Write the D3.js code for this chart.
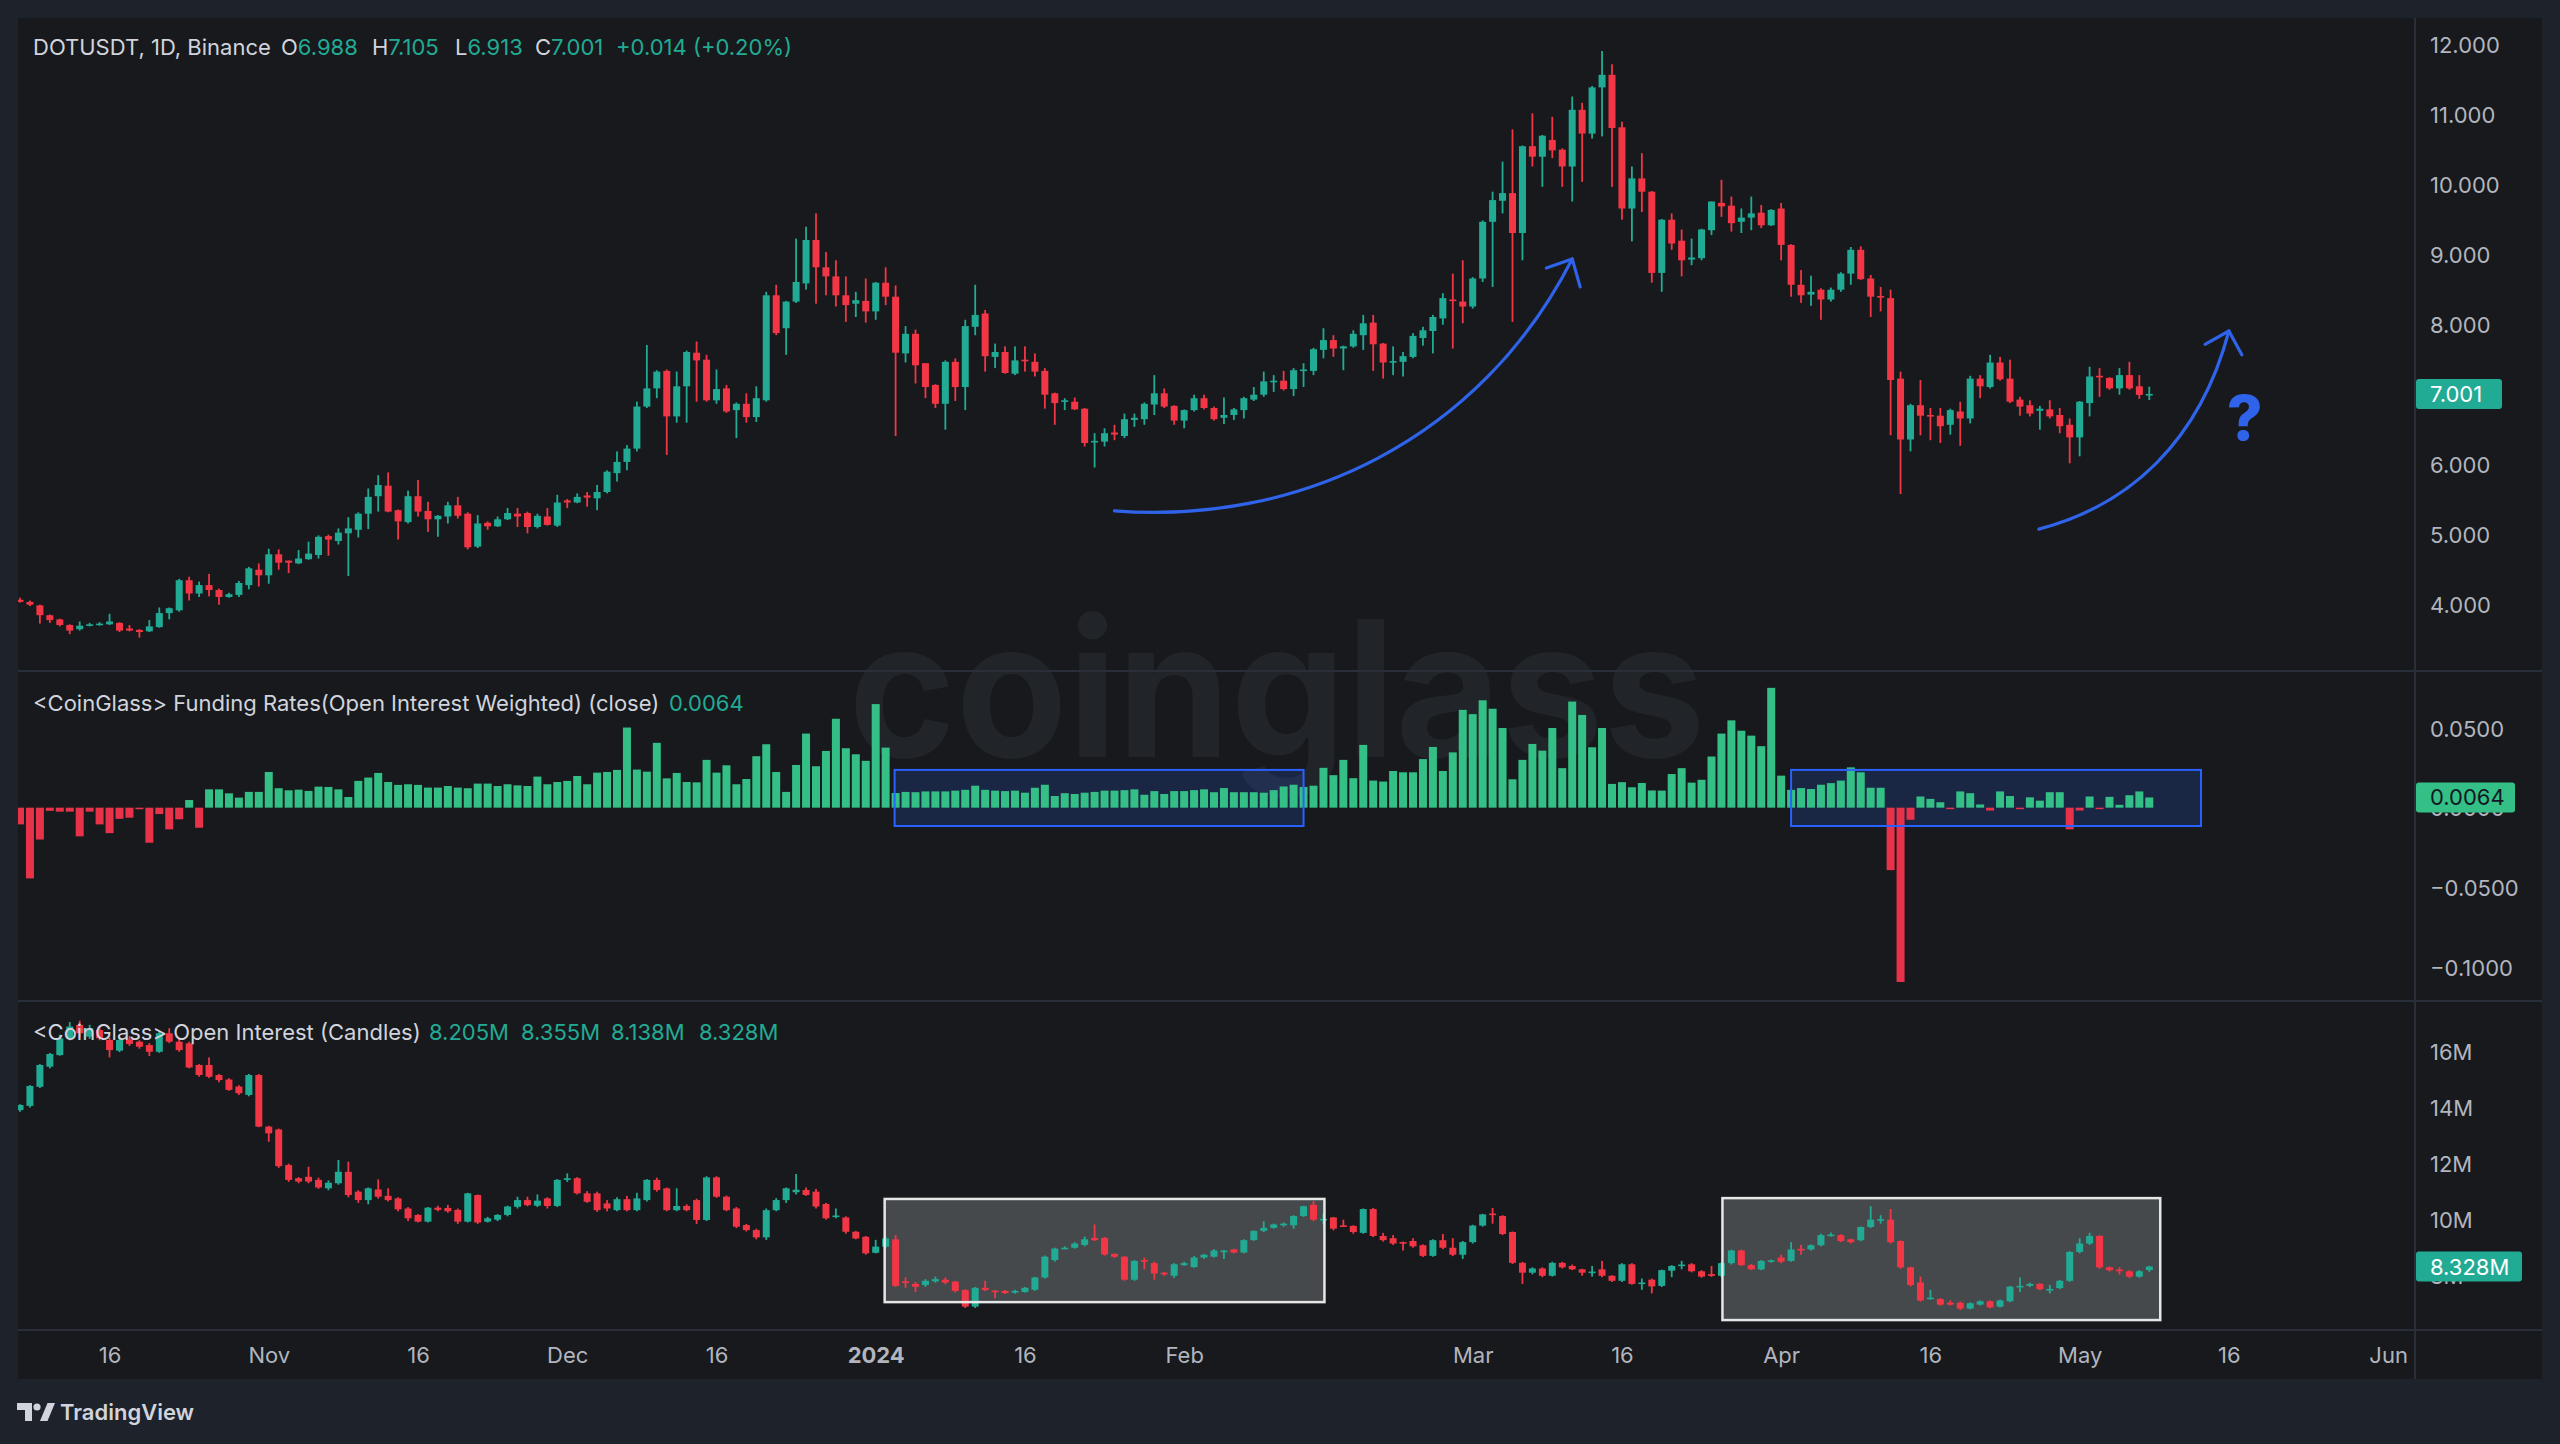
<!DOCTYPE html>
<html><head><meta charset="utf-8">
<script src="https://cdn.jsdelivr.net/npm/d3@7"></script>
<style>
html,body{margin:0;padding:0;background:#1e222b;overflow:hidden}
svg{display:block}
text{font-family:Inter,"Noto Sans",sans-serif}
</style></head>
<body>
<svg id="chart" width="2560" height="1444"></svg>
<script>
// ---------------- DATA ----------------
const startDayUTC = Date.UTC(2023, 9, 7); // first daily candle: 2023-10-07
// DOTUSDT daily [open, high, low, close]
const priceOHLC = [
[4.06,4.09,4.02,4.03],[4.03,4.05,3.97,3.99],[3.98,3.99,3.72,3.84],[3.84,3.85,3.73,3.77],[3.78,3.79,3.68,3.70],
[3.70,3.71,3.57,3.62],[3.64,3.75,3.62,3.69],[3.69,3.73,3.68,3.71],[3.70,3.74,3.69,3.72],[3.71,3.86,3.70,3.75],
[3.73,3.74,3.60,3.62],[3.65,3.70,3.61,3.62],[3.63,3.64,3.52,3.60],[3.61,3.77,3.60,3.68],[3.67,3.95,3.66,3.87],
[3.87,3.95,3.78,3.94],[3.91,4.36,3.89,4.34],[4.34,4.39,4.05,4.15],[4.15,4.32,4.10,4.27],[4.27,4.43,4.11,4.20],
[4.20,4.22,3.99,4.10],[4.10,4.16,4.09,4.14],[4.13,4.33,4.10,4.30],[4.27,4.53,4.21,4.51],[4.49,4.58,4.25,4.41],
[4.41,4.79,4.29,4.71],[4.71,4.78,4.49,4.59],[4.62,4.62,4.44,4.59],[4.58,4.77,4.57,4.65],[4.64,4.89,4.63,4.72],
[4.70,4.98,4.65,4.96],[4.97,4.99,4.69,4.92],[4.90,5.08,4.85,5.02],[5.01,5.24,4.40,5.08],[5.06,5.31,4.95,5.29],
[5.29,5.65,5.07,5.53],[5.54,5.84,5.32,5.70],[5.69,5.88,5.31,5.32],[5.34,5.35,4.92,5.18],[5.17,5.62,5.15,5.54],
[5.54,5.77,5.25,5.32],[5.33,5.46,5.03,5.21],[5.21,5.27,4.96,5.26],[5.25,5.46,5.15,5.41],[5.41,5.53,5.22,5.26],
[5.29,5.31,4.78,4.81],[4.82,5.27,4.80,5.15],[5.16,5.18,5.06,5.11],[5.11,5.25,5.10,5.21],[5.21,5.37,5.20,5.30],
[5.29,5.37,5.10,5.25],[5.30,5.32,5.01,5.10],[5.10,5.29,5.08,5.26],[5.25,5.37,5.12,5.13],[5.12,5.56,5.10,5.45],
[5.48,5.50,5.37,5.45],[5.45,5.58,5.44,5.53],[5.55,5.60,5.39,5.52],[5.51,5.70,5.34,5.60],[5.60,5.91,5.58,5.89],
[5.87,6.18,5.75,6.03],[6.03,6.27,5.91,6.22],[6.22,6.89,6.18,6.82],[6.82,7.70,6.80,7.08],[7.08,7.34,6.94,7.32],
[7.33,7.35,6.13,6.68],[6.68,7.32,6.59,7.11],[7.11,7.62,6.59,7.60],[7.59,7.75,6.89,7.48],[7.49,7.56,6.89,6.91],
[6.91,7.35,6.86,7.07],[7.08,7.13,6.73,6.75],[6.77,6.88,6.37,6.86],[6.86,7.01,6.59,6.67],[6.67,7.11,6.60,6.94],
[6.91,8.46,6.89,8.41],[8.41,8.56,7.84,7.87],[7.94,8.33,7.56,8.32],[8.32,9.22,8.30,8.60],[8.58,9.39,8.49,9.20],
[9.20,9.58,8.29,8.81],[8.81,9.03,8.41,8.68],[8.68,8.91,8.25,8.41],[8.41,8.68,8.03,8.27],[8.29,8.46,8.10,8.34],
[8.33,8.65,8.02,8.18],[8.18,8.60,8.06,8.59],[8.59,8.81,8.27,8.39],[8.39,8.55,6.40,7.59],[7.58,7.97,7.45,7.86],
[7.86,7.92,7.15,7.41],[7.44,7.44,6.94,7.10],[7.13,7.14,6.80,6.86],[6.86,7.48,6.49,7.46],[7.46,7.51,6.90,7.10],
[7.10,8.06,6.77,7.97],[7.96,8.56,7.84,8.13],[8.15,8.20,7.32,7.54],[7.53,7.72,7.37,7.60],[7.60,7.68,7.29,7.30],
[7.29,7.68,7.27,7.48],[7.49,7.68,7.32,7.47],[7.46,7.58,7.25,7.32],[7.33,7.37,6.79,6.99],[7.01,7.02,6.56,6.87],
[6.89,6.94,6.77,6.91],[6.89,6.95,6.77,6.78],[6.79,6.80,6.25,6.30],[6.31,6.44,5.95,6.33],[6.32,6.51,6.25,6.44],
[6.45,6.56,6.34,6.42],[6.40,6.72,6.37,6.64],[6.63,6.72,6.53,6.66],[6.64,6.88,6.56,6.86],[6.85,7.27,6.70,7.01],
[7.01,7.08,6.80,6.82],[6.83,6.84,6.56,6.62],[6.62,6.78,6.51,6.77],[6.77,6.99,6.75,6.94],[6.94,6.99,6.78,6.80],
[6.80,6.82,6.62,6.64],[6.66,6.95,6.57,6.70],[6.70,6.80,6.63,6.78],[6.77,6.96,6.65,6.94],[6.92,7.10,6.90,6.99],
[6.99,7.32,6.96,7.18],[7.18,7.27,7.03,7.19],[7.19,7.33,7.05,7.07],[7.07,7.37,6.97,7.34],[7.33,7.44,7.10,7.35],
[7.33,7.66,7.27,7.64],[7.63,7.94,7.51,7.77],[7.77,7.84,7.53,7.65],[7.65,7.69,7.34,7.68],[7.68,7.91,7.66,7.86],
[7.84,8.13,7.63,8.01],[8.02,8.13,7.33,7.71],[7.72,7.73,7.22,7.45],[7.45,7.68,7.27,7.47],[7.46,7.60,7.25,7.54],
[7.53,7.87,7.51,7.83],[7.80,7.96,7.69,7.91],[7.90,8.13,7.58,8.10],[8.08,8.44,7.99,8.37],[8.35,8.72,7.65,8.34],
[8.32,8.91,8.01,8.25],[8.25,8.67,8.22,8.65],[8.65,9.48,8.60,9.46],[9.46,9.89,8.53,9.77],[9.76,10.32,9.58,9.87],
[9.87,10.78,8.03,9.30],[9.30,10.55,8.91,10.54],[10.54,11.01,10.25,10.39],[10.39,10.70,9.96,10.69],[10.63,10.96,10.37,10.48],
[10.49,10.51,9.96,10.25],[10.25,11.25,9.75,11.06],[11.06,11.16,10.03,10.72],[10.72,11.40,10.65,11.38],[11.38,11.90,10.68,11.56],
[11.56,11.71,9.96,10.80],[10.81,10.89,9.49,9.65],[9.65,10.25,9.18,10.08],[10.08,10.44,9.60,9.89],[9.89,9.90,8.59,8.73],
[8.73,9.50,8.46,9.49],[9.49,9.58,9.06,9.15],[9.19,9.35,8.68,8.91],[8.92,9.22,8.84,8.95],[8.94,9.36,8.91,9.35],
[9.34,9.75,9.27,9.75],[9.73,10.06,9.53,9.68],[9.69,9.82,9.32,9.44],[9.46,9.65,9.30,9.52],[9.52,9.82,9.34,9.58],
[9.59,9.70,9.37,9.41],[9.41,9.64,9.40,9.63],[9.65,9.73,8.91,9.13],[9.13,9.14,8.39,8.56],[8.56,8.77,8.30,8.41],
[8.42,8.69,8.26,8.46],[8.49,8.51,8.06,8.35],[8.35,8.52,8.32,8.49],[8.49,8.74,8.46,8.72],[8.72,9.10,8.56,9.06],
[9.06,9.11,8.63,8.64],[8.65,8.70,8.10,8.39],[8.40,8.53,8.18,8.38],[8.37,8.49,6.41,7.20],[7.22,7.32,5.57,6.35],
[6.35,6.86,6.18,6.84],[6.84,7.20,6.41,6.69],[6.70,6.80,6.34,6.68],[6.69,6.80,6.30,6.54],[6.56,6.79,6.42,6.77],
[6.75,6.89,6.26,6.65],[6.65,7.26,6.58,7.22],[7.22,7.27,6.94,7.11],[7.10,7.56,7.08,7.45],[7.45,7.53,7.19,7.21],
[7.22,7.49,6.87,6.89],[6.92,6.96,6.69,6.82],[6.84,6.91,6.68,6.72],[6.76,6.83,6.49,6.79],[6.78,6.91,6.65,6.68],
[6.70,6.80,6.44,6.54],[6.56,6.65,6.01,6.38],[6.38,6.90,6.11,6.89],[6.87,7.39,6.68,7.25],[7.26,7.37,6.96,7.24],
[7.23,7.24,7.06,7.08],[7.08,7.37,6.99,7.27],[7.27,7.46,7.06,7.08],[7.11,7.27,6.93,6.987],[6.988,7.105,6.913,7.001]
];
// CoinGlass OI-weighted funding rate (close), %
const fundingRates = [
-0.0105,-0.0444,-0.020,-0.002,-0.0025,-0.0025,-0.018,-0.0025,-0.0105,-0.016,
-0.007,-0.0063,-0.001,-0.022,-0.004,-0.0136,-0.0073,0.0048,-0.0126,0.0115,
0.0115,0.009,0.0063,0.0099,0.0099,0.0224,0.0122,0.0109,0.0113,0.0105,
0.0132,0.013,0.0115,0.0067,0.0168,0.0189,0.0218,0.0161,0.0143,0.0147,
0.0143,0.0126,0.0126,0.0136,0.0126,0.0122,0.0151,0.0151,0.0136,0.0147,
0.014,0.0136,0.0195,0.0147,0.0161,0.0168,0.0199,0.0147,0.022,0.0224,
0.0237,0.0503,0.0239,0.0226,0.0407,0.0184,0.0218,0.0161,0.0159,0.030,
0.022,0.0266,0.0147,0.018,0.0323,0.0398,0.0224,0.0099,0.0268,0.0465,
0.026,0.0356,0.0558,0.0373,0.0335,0.0294,0.065,0.0377,0.0092,0.0099,
0.0097,0.0102,0.0102,0.0102,0.0107,0.0112,0.0138,0.0112,0.0107,0.0104,
0.0107,0.0094,0.0125,0.0144,0.0073,0.0091,0.0086,0.0094,0.0099,0.0107,
0.0107,0.011,0.0115,0.0081,0.0104,0.0086,0.0104,0.0104,0.011,0.0115,
0.0097,0.0123,0.0097,0.0097,0.0097,0.0094,0.011,0.0133,0.0144,0.013,
0.0138,0.025,0.0204,0.030,0.0185,0.0394,0.017,0.0164,0.023,0.0222,
0.0222,0.0305,0.0381,0.023,0.0347,0.0614,0.0587,0.0674,0.0621,0.050,
0.0178,0.030,0.040,0.0358,0.050,0.0248,0.0666,0.0582,0.0379,0.050,
0.0149,0.016,0.0128,0.0155,0.0108,0.0107,0.0211,0.0248,0.0157,0.0175,
0.0321,0.0465,0.0548,0.0483,0.0452,0.0386,0.0752,0.0201,0.0112,0.0123,
0.0117,0.0144,0.0154,0.017,0.0253,0.0222,0.0125,0.0125,-0.0392,-0.1094,
-0.0076,0.007,0.0055,0.0034,-0.0008,0.0102,0.0091,0.002,-0.0018,0.0102,
0.0073,-0.0008,0.0065,0.0044,0.0097,0.0097,-0.0136,-0.0018,0.007,-0.0005,
0.0068,0.0018,0.0078,0.0102,0.0064
];
// CoinGlass open interest candles, millions [open, high, low, close]
const openInterestOHLC = [
[13.91,14.12,13.85,14.09],[14.06,14.80,14.00,14.77],[14.74,15.55,14.70,15.52],[15.46,15.95,15.40,15.91],[15.87,16.60,15.85,16.47],
[16.47,17.05,16.40,16.89],[16.95,17.10,16.50,16.65],[16.53,16.95,16.45,16.83],[16.77,16.90,16.40,16.47],[16.41,16.50,15.79,16.05],
[16.03,16.50,15.98,16.41],[16.43,16.55,16.20,16.27],[16.35,16.40,16.10,16.17],[16.23,16.30,15.84,15.99],[15.99,16.70,15.95,16.65],
[16.65,16.83,16.30,16.35],[16.35,16.45,15.99,16.05],[16.29,16.35,15.40,15.43],[15.52,15.55,15.10,15.16],[15.52,15.79,15.05,15.10],
[15.16,15.20,14.90,14.98],[15.00,15.05,14.60,14.63],[14.75,14.80,14.45,14.51],[14.45,15.20,14.40,15.16],[15.16,15.20,13.30,13.32],
[13.32,13.35,12.78,13.08],[13.22,13.25,11.85,11.91],[11.95,12.00,11.35,11.42],[11.48,11.52,11.30,11.36],[11.53,11.89,11.30,11.36],
[11.42,11.50,11.10,11.15],[11.12,11.40,11.05,11.32],[11.30,12.13,11.25,11.71],[11.71,12.07,10.80,10.88],[11.00,11.05,10.60,10.70],
[10.70,11.15,10.55,11.12],[11.08,11.44,10.75,10.82],[10.85,11.12,10.65,10.70],[10.76,10.80,10.30,10.37],[10.40,10.45,9.95,10.05],
[10.17,10.20,9.90,9.93],[9.93,10.45,9.90,10.43],[10.43,10.50,10.30,10.35],[10.42,10.53,10.25,10.30],[10.35,10.40,9.85,9.93],
[9.93,10.96,9.90,10.94],[10.88,10.90,9.85,9.90],[9.93,10.10,9.90,10.05],[10.00,10.20,9.95,10.17],[10.17,10.50,10.12,10.47],
[10.46,10.82,10.40,10.70],[10.70,10.82,10.48,10.52],[10.50,10.90,10.45,10.68],[10.76,10.80,10.40,10.49],[10.49,11.45,10.45,11.42],
[11.42,11.65,11.35,11.48],[11.48,11.52,10.90,10.94],[10.94,11.02,10.60,10.64],[10.94,11.00,10.28,10.34],[10.58,10.70,10.30,10.40],
[10.34,10.80,10.30,10.73],[10.73,10.85,10.30,10.34],[10.34,10.96,10.30,10.76],[10.70,11.45,10.65,11.42],[11.42,11.50,11.00,11.06],
[11.12,11.15,10.30,10.34],[10.34,11.12,10.30,10.49],[10.49,10.55,10.30,10.34],[10.70,10.75,9.85,9.99],[9.99,11.55,9.95,11.51],
[11.51,11.55,10.78,10.82],[10.82,10.86,10.30,10.34],[10.40,10.45,9.70,9.75],[9.81,9.85,9.58,9.63],[9.63,9.68,9.30,9.37],
[9.37,10.40,9.28,10.34],[10.34,10.77,10.30,10.70],[10.70,11.15,10.60,11.12],[10.98,11.63,10.90,11.07],[11.06,11.15,10.85,10.88],
[11.00,11.10,10.40,10.47],[10.56,10.60,10.00,10.05],[10.10,10.40,10.05,10.15],[10.08,10.12,9.50,9.57],[9.57,9.60,9.30,9.33],
[9.39,9.42,8.75,8.80],[8.82,9.28,8.80,9.04],[9.04,9.40,9.00,9.33],[9.30,9.45,7.60,7.64],[7.80,7.94,7.57,7.77],
[7.71,7.78,7.42,7.61],[7.67,7.88,7.60,7.82],[7.80,7.97,7.75,7.88],[7.86,7.94,7.70,7.76],[7.79,7.82,7.40,7.46],
[7.49,7.52,6.85,6.90],[6.90,7.60,6.85,7.57],[7.57,7.82,7.45,7.49],[7.47,7.48,7.20,7.42],[7.46,7.49,7.35,7.38],
[7.40,7.50,7.36,7.46],[7.42,7.60,7.40,7.57],[7.50,7.96,7.46,7.94],[7.94,8.72,7.90,8.68],[8.56,9.00,8.50,8.97],
[8.97,9.05,8.95,9.00],[9.00,9.20,8.97,9.15],[9.10,9.40,9.05,9.30],[9.35,9.83,9.24,9.27],[9.35,9.38,8.72,8.76],
[8.78,8.80,8.64,8.68],[8.68,8.70,7.82,7.86],[7.86,8.56,7.82,8.53],[8.56,8.65,8.23,8.50],[8.45,8.50,7.86,8.08],
[8.11,8.14,8.00,8.05],[8.00,8.45,7.92,8.41],[8.38,8.50,8.35,8.45],[8.31,8.70,8.28,8.65],[8.65,8.78,8.60,8.75],
[8.68,8.95,8.65,8.90],[8.88,8.92,8.60,8.90],[8.94,8.96,8.80,8.83],[8.83,9.30,8.80,9.27],[9.27,9.62,9.25,9.60],
[9.60,9.94,9.56,9.71],[9.71,9.86,9.68,9.83],[9.80,9.90,9.75,9.86],[9.80,10.16,9.68,10.13],[10.13,10.50,10.10,10.48],
[10.53,10.67,9.95,10.00],[9.98,10.23,9.83,10.03],[10.08,10.10,9.62,9.68],[9.80,10.00,9.74,9.78],[9.78,9.80,9.50,9.56],
[9.53,10.40,9.50,10.38],[10.38,10.42,9.38,9.42],[9.42,9.53,9.22,9.27],[9.34,9.45,9.10,9.15],[9.20,9.22,8.90,9.17],
[9.24,9.34,9.00,9.05],[9.09,9.12,8.67,8.71],[8.71,9.30,8.68,9.27],[9.27,9.49,8.95,9.00],[9.00,9.34,8.70,8.75],
[8.75,9.24,8.60,9.20],[9.20,9.82,9.15,9.79],[9.79,10.21,9.75,10.19],[10.22,10.42,9.86,10.19],[10.13,10.16,9.45,9.49],
[9.56,9.58,8.42,8.46],[8.46,8.50,7.71,8.11],[8.11,8.30,8.05,8.26],[8.26,8.30,7.95,8.00],[8.00,8.50,7.97,8.46],
[8.46,8.50,8.26,8.30],[8.35,8.40,8.20,8.23],[8.23,8.25,8.00,8.11],[8.12,8.35,7.97,8.15],[8.23,8.53,7.95,8.00],
[8.00,8.02,7.78,7.82],[7.82,8.45,7.78,8.41],[8.41,8.45,7.68,7.71],[7.72,7.90,7.50,7.76],[7.86,7.90,7.37,7.62],
[7.64,8.22,7.60,8.20],[8.18,8.38,7.95,8.35],[8.35,8.53,8.23,8.40],[8.41,8.45,8.12,8.16],[8.16,8.20,7.93,7.97],
[8.06,8.35,7.96,8.00],[8.00,8.48,7.95,8.45],[8.45,8.93,8.40,8.90],[8.90,8.93,8.35,8.38],[8.38,8.42,8.20,8.23],
[8.23,8.56,8.20,8.53],[8.50,8.58,8.47,8.55],[8.65,8.75,8.45,8.50],[8.53,9.20,8.50,8.94],[8.96,9.10,8.75,8.94],
[8.94,9.12,8.90,9.09],[9.09,9.50,9.05,9.45],[9.44,9.54,9.40,9.47],[9.45,9.48,9.20,9.24],[9.30,9.32,9.15,9.20],
[9.27,9.76,9.23,9.74],[9.74,10.48,9.70,10.00],[9.99,10.16,9.86,10.02],[10.00,10.38,9.15,9.20],[9.24,9.26,8.25,8.30],
[8.30,8.32,7.62,7.67],[7.76,7.97,7.08,7.12],[7.17,7.50,7.15,7.22],[7.17,7.20,6.93,6.97],[7.04,7.12,6.94,6.97],
[7.04,7.08,6.78,6.83],[6.83,7.05,6.80,7.02],[6.97,7.12,6.94,7.09],[7.09,7.12,6.84,6.87],[6.90,7.15,6.87,7.12],
[7.09,7.64,7.06,7.61],[7.60,7.94,7.42,7.64],[7.64,7.75,7.60,7.71],[7.71,7.74,7.48,7.52],[7.50,7.67,7.37,7.53],
[7.56,7.85,7.52,7.82],[7.82,8.88,7.78,8.85],[8.85,9.34,8.80,9.15],[9.15,9.53,9.10,9.42],[9.42,9.45,8.25,8.30],
[8.30,8.33,8.15,8.20],[8.22,8.30,8.05,8.18],[8.16,8.20,7.92,7.97],[7.97,8.20,7.93,8.16],[8.205,8.355,8.138,8.328]
];
// axis ticks
const timeTickDates = ["2023-10-16","2023-11-01","2023-11-16","2023-12-01","2023-12-16","2024-01-01","2024-01-16","2024-02-01","2024-03-01","2024-03-16","2024-04-01","2024-04-16","2024-05-01","2024-05-16","2024-06-01"];
const timeTickLabels = ["16","Nov","16","Dec","16","2024","16","Feb","Mar","16","Apr","16","May","16","Jun"];
const priceTicks = [4,5,6,7,8,9,10,11,12];
const fundingTicks = [0.05,0,-0.05,-0.1];
const oiTicks = [8,10,12,14,16];
// annotations in data space: [day index, value]
const arrowRise = [[110,5.33],[128.6,5.13],[146.7,6.34],[156,8.93]];
const arrowRiseHead = [[153.4,8.80],[156,8.93],[156.8,8.53]];
const arrowNext = [[202.9,5.07],[212.1,5.41],[219.1,6.34],[222,7.90]];
const arrowNextHead = [[219.6,7.71],[222,7.90],[223.3,7.56]];
const questionMark = [223.6,6.66];
const fundingBoxes = [[87.9,129.0,0.0237,-0.0115],[178.0,219.2,0.0237,-0.0115]];
const oiBoxes = [[86.9,131.1,10.74,7.06],[171.1,215.1,10.77,6.42]];

// ---------------- SETUP ----------------
const C = {
  outer:"#1e222b", panel:"#17191c", sep:"#2a2e39", axisText:"#b2b5be", text:"#d1d4dc",
  up:"#22ab94", down:"#f23645", fUp:"#34bf86", fDown:"#e8324a", blue:"#2f63ea"
};
const FONT = 22;
const PANE = {x0:18, x1:2415, price:[18,671], fund:[671,1001], oi:[1001,1330], time:[1330,1379], right:2542};

const dayDate = i => new Date(startDayUTC + i*864e5);
const x = d3.scaleUtc().domain([dayDate(0), new Date(Date.UTC(2024,5,1))]).range([20, 2388.1]);
const xi = i => x(dayDate(i));
const yP = d3.scaleLinear().domain([4,12]).range([604,44]);
const yF = d3.scaleLinear().domain([-0.1,0.05]).range([967,728]);
const yO = d3.scaleLinear().domain([10,16]).range([1219.7,1051.5]);

const svg = d3.select("#chart");
svg.append("rect").attr("width",2560).attr("height",1444).attr("fill",C.outer);
svg.append("rect").attr("x",18).attr("y",18).attr("width",PANE.right-18).attr("height",PANE.time[1]-18).attr("fill",C.panel);

const defs = svg.append("defs");
function clip(id, y0, y1){
  defs.append("clipPath").attr("id",id).append("rect")
    .attr("x",PANE.x0).attr("y",y0).attr("width",PANE.x1-PANE.x0).attr("height",y1-y0);
  return "url(#"+id+")";
}
const clipP = clip("cp",PANE.price[0],PANE.price[1]);
const clipF = clip("cf",PANE.fund[0],PANE.fund[1]);
const clipO = clip("co",PANE.oi[0],PANE.oi[1]);

// watermark
svg.append("text").attr("x",1277).attr("y",757).attr("text-anchor","middle")
  .attr("font-size",190).attr("font-weight",700).attr("fill","#212428")
  .attr("textLength",857).attr("lengthAdjust","spacingAndGlyphs").text("coinglass");

// ---------------- PANES ----------------
const gF = svg.append("g").attr("clip-path",clipF);
const gO = svg.append("g").attr("clip-path",clipO);
const gP = svg.append("g").attr("clip-path",clipP);

// box fills (behind series)
gF.selectAll("rect.bf").data(fundingBoxes).join("rect")
  .attr("x",d=>xi(d[0])).attr("width",d=>xi(d[1])-xi(d[0]))
  .attr("y",d=>yF(d[2])).attr("height",d=>yF(d[3])-yF(d[2]))
  .attr("fill","rgba(41,98,255,0.18)");
gO.selectAll("rect.bo").data(oiBoxes).join("rect")
  .attr("x",d=>xi(d[0])).attr("width",d=>xi(d[1])-xi(d[0]))
  .attr("y",d=>yO(d[2])).attr("height",d=>yO(d[3])-yO(d[2]))
  .attr("fill","#46494c");

function candles(g, data, y){
  const c = g.selectAll("g.cd").data(data).join("g").attr("class","cd")
    .attr("fill",d=>d[3]>=d[0]?C.up:C.down);
  c.append("rect").attr("x",(d,i)=>xi(i)-0.9).attr("width",1.8)
    .attr("y",d=>y(d[1])).attr("height",d=>Math.max(1,y(d[2])-y(d[1])));
  c.append("rect").attr("x",(d,i)=>xi(i)-3.5).attr("width",7)
    .attr("y",d=>y(Math.max(d[0],d[3])))
    .attr("height",d=>Math.max(1.6,Math.abs(y(d[0])-y(d[3]))));
}
candles(gP, priceOHLC, yP);
candles(gO, openInterestOHLC, yO);

gF.selectAll("rect.fb").data(fundingRates).join("rect").attr("class","fb")
  .attr("x",(d,i)=>xi(i)-4).attr("width",8)
  .attr("y",d=>yF(Math.max(0,d))).attr("height",d=>Math.max(1.5,Math.abs(yF(d)-yF(0))))
  .attr("fill",d=>d>=0?C.fUp:C.fDown);

// box outlines
gF.selectAll("rect.bs").data(fundingBoxes).join("rect").attr("class","bs")
  .attr("x",d=>xi(d[0])).attr("width",d=>xi(d[1])-xi(d[0]))
  .attr("y",d=>yF(d[2])).attr("height",d=>yF(d[3])-yF(d[2]))
  .attr("fill","none").attr("stroke","#2962ff").attr("stroke-width",2);
gO.selectAll("rect.os").data(oiBoxes).join("rect").attr("class","os")
  .attr("x",d=>xi(d[0])).attr("width",d=>xi(d[1])-xi(d[0]))
  .attr("y",d=>yO(d[2])).attr("height",d=>yO(d[3])-yO(d[2]))
  .attr("fill","none").attr("stroke","#e6e6e6").attr("stroke-width",2.5);

// arrows
function bez(p){ const q=p.map(d=>[xi(d[0]),yP(d[1])]);
  return `M${q[0]}C${q[1]} ${q[2]} ${q[3]}`; }
const line = d3.line().x(d=>xi(d[0])).y(d=>yP(d[1]));
[[arrowRise,arrowRiseHead],[arrowNext,arrowNextHead]].forEach(([a,h])=>{
  gP.append("path").attr("d",bez(a)).attr("fill","none").attr("stroke",C.blue).attr("stroke-width",3.2).attr("stroke-linecap","round");
  gP.append("path").attr("d",line(h)).attr("fill","none").attr("stroke",C.blue).attr("stroke-width",3.2).attr("stroke-linecap","round").attr("stroke-linejoin","round");
});
gP.append("text").attr("x",xi(questionMark[0])).attr("y",yP(questionMark[1]))
  .attr("text-anchor","middle").attr("dominant-baseline","central")
  .attr("font-size",62).attr("font-weight",800).attr("fill",C.blue).text("?");

// ---------------- SEPARATORS & AXES ----------------
[PANE.price[1],PANE.fund[1],PANE.oi[1]].forEach(y=>{
  svg.append("line").attr("x1",18).attr("x2",PANE.right).attr("y1",y).attr("y2",y)
    .attr("stroke",C.sep).attr("stroke-width",2);
});
svg.append("line").attr("x1",PANE.x1).attr("x2",PANE.x1).attr("y1",18).attr("y2",PANE.time[1])
  .attr("stroke",C.sep).attr("stroke-width",2);

function rightAxis(scale, ticks, fmt){
  const g = svg.append("g").attr("transform",`translate(${PANE.x1},0)`)
    .call(d3.axisRight(scale).tickValues(ticks).tickFormat(fmt).tickSize(0).tickPadding(15));
  g.select(".domain").remove();
  g.selectAll("text").attr("fill",C.axisText).attr("font-size",FONT)
    .attr("font-family","Inter, 'Noto Sans', sans-serif").attr("dy",null).attr("dominant-baseline","central");
}
rightAxis(yP, priceTicks, d3.format(".3f"));
rightAxis(yF, fundingTicks, d=>(d<0?"\u2212":"")+Math.abs(d).toFixed(4));
rightAxis(yO, oiTicks, d=>d+"M");

const gx = svg.append("g").attr("transform",`translate(0,${PANE.time[0]})`)
  .call(d3.axisBottom(x).tickValues(timeTickDates.map(s=>new Date(s+"T00:00:00Z")))
    .tickFormat((d,i)=>timeTickLabels[i]).tickSize(0));
gx.select(".domain").remove();
gx.selectAll("text").attr("y",25).attr("dy",null).attr("dominant-baseline","central")
  .attr("fill",C.axisText).attr("font-size",FONT).attr("font-family","Inter, 'Noto Sans', sans-serif")
  .attr("font-weight",(d,i)=>timeTickLabels[i]==="2024"?700:400);

// last value labels
function lastLabel(y, txt, w, fill, color){
  svg.append("rect").attr("x",PANE.x1+1).attr("y",y-15).attr("width",w).attr("height",30).attr("rx",3).attr("fill",fill);
  svg.append("text").attr("x",PANE.x1+15).attr("y",y).attr("dominant-baseline","central")
    .attr("font-size",FONT).attr("fill",color).text(txt);
}
const lastP = priceOHLC[priceOHLC.length-1];
const prevP = priceOHLC[priceOHLC.length-2];
const lastF = fundingRates[fundingRates.length-1];
const lastO = openInterestOHLC[openInterestOHLC.length-1];
lastLabel(yP(lastP[3]), lastP[3].toFixed(3), 86, C.up, "#ffffff");
lastLabel(yF(lastF), lastF.toFixed(4), 99, C.fUp, "#131722");
lastLabel(yO(lastO[3]), lastO[3].toFixed(3)+"M", 106, C.up, "#ffffff");

// ---------------- LEGENDS ----------------
function t(xp, yp, str, col, g){ return (g||svg).append("text").attr("x",xp).attr("y",yp)
  .attr("dominant-baseline","central").attr("font-size",FONT).attr("fill",col).text(str); }
t(33,47,"DOTUSDT, 1D, Binance",C.text);
const ohlcLabels = ["O","H","L","C"], ohlcX = [281,372,455,535];
ohlcLabels.forEach((L,k)=>{
  const el = t(ohlcX[k],47,L,C.text);
  el.append("tspan").attr("fill",C.up).text(lastP[k].toFixed(3));
});
const chg = lastP[3]-prevP[3];
t(616,47,(chg>=0?"+":"")+chg.toFixed(3)+" ("+(chg>=0?"+":"")+(chg/prevP[3]*100).toFixed(2)+"%)",C.up);

t(33,703,"<CoinGlass> Funding Rates(Open Interest Weighted) (close)",C.text);
t(669,703,lastF.toFixed(4),C.up);
t(33,1032,"<CoinGlass> Open Interest (Candles)",C.text);
const oiX=[429,521,611,699];
lastO.forEach((v,k)=>t(oiX[k],1032,v.toFixed(3)+"M",C.up));

// TradingView logo
const lg = svg.append("g").attr("fill",C.text);
lg.append("path").attr("d","M17 1403h15v18h-7v-11h-8z");
lg.append("circle").attr("cx",37).attr("cy",1407).attr("r",3.6);
lg.append("path").attr("d","M40 1421l7.5-18h7.5l-7.5 18z");
lg.append("text").attr("x",60).attr("y",1412).attr("dominant-baseline","central")
  .attr("font-size",22).attr("font-weight",600).attr("fill",C.text).text("TradingView");
</script>
</body></html>
